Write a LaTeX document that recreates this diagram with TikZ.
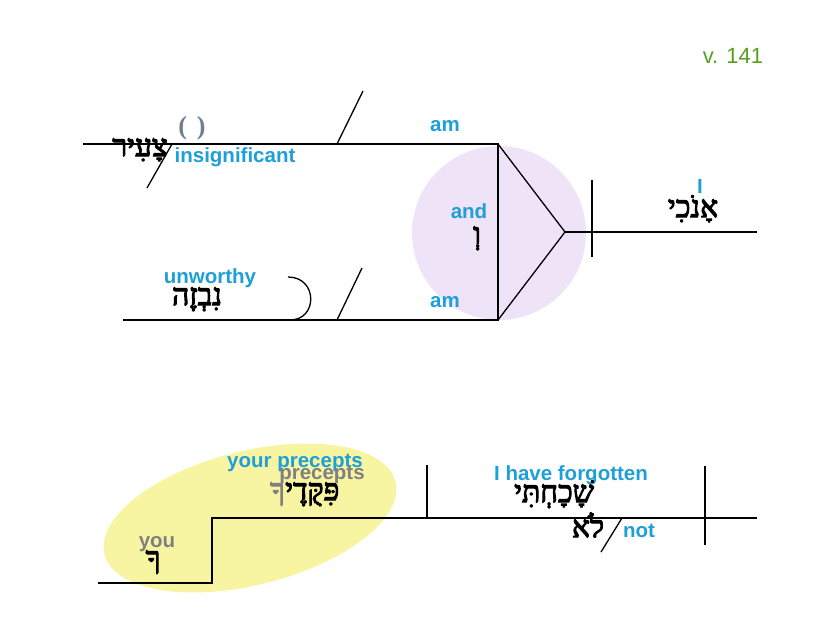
\documentclass[tikz,border=0pt]{standalone}
\usepackage{fontspec}
\setmainfont{Liberation Sans}
\newfontfamily\heb[Script=Hebrew, FakeBold=3.5]{Liberation Serif}
\newfontfamily\parenfont{Liberation Serif}
\TeXXeTstate=1
\definecolor{lblue}{HTML}{1E9FD8}
\definecolor{tgray}{HTML}{808080}
\definecolor{pgray}{HTML}{6E7F8F}
\definecolor{vgreen}{HTML}{5A9E1E}
\definecolor{lav}{HTML}{EFE3F8}
\definecolor{lyel}{HTML}{F8F5A2}
\begin{document}
\begin{tikzpicture}[x=1pt,y=-1pt,
  en/.style={font=\fontsize{20.5}{24}\selectfont\bfseries, text=lblue, inner sep=0pt, anchor=base},
  gr/.style={en, text=tgray},
  hb/.style={font=\heb\fontsize{30}{34}\selectfont, inner sep=0pt, anchor=base},
  ln/.style={line width=1.3pt, black}]
\useasboundingbox (0,0) rectangle (825,635);
% backgrounds
\fill[lav] (499,233) circle[radius=87];
\fill[lyel, rotate around={14:(250,518)}] (250,518) ellipse[x radius=150, y radius=67];
% coordinates
\coordinate (tl) at (83,144);
\coordinate (tr) at (498,144);
\coordinate (bl) at (123,320);
\coordinate (br) at (498,320);
\coordinate (apex) at (565,232);
\coordinate (re) at (757,232);
\coordinate (vt) at (592,180);
\coordinate (vb) at (592,257);
\coordinate (s1a) at (337,144);
\coordinate (s1b) at (363,91);
\coordinate (s2a) at (172,144);
\coordinate (s2b) at (147,188);
\coordinate (s3a) at (337,320);
\coordinate (s3b) at (362,268);
\coordinate (c1) at (288,277);
\coordinate (c2) at (290,320);
% bottom
\coordinate (ql) at (98,583);
\coordinate (qc) at (212,583);
\coordinate (qu) at (212,518);
\coordinate (qr) at (757,518);
\coordinate (v1t) at (427,465);
\coordinate (v1b) at (427,518);
\coordinate (v2t) at (705,466);
\coordinate (v2b) at (705,545);
\coordinate (s4a) at (622,518);
\coordinate (s4b) at (601,552);
% lines
\draw[ln] (tl) -- (tr) -- (br) -- (bl);
\draw[ln] (tr) -- (apex) -- (br);
\draw[ln] (apex) -- (re);
\draw[ln] (vt) -- (vb);
\draw[ln] (s1a) -- (s1b);
\draw[ln] (s2a) -- (s2b);
\draw[ln] (s3a) -- (s3b);
\draw[ln] (c1) .. controls (318,277) and (318,320) .. (c2);
\draw[ln] (ql) -- (qc) -- (qu) -- (qr);
\draw[ln] (v1t) -- (v1b);
\draw[ln] (v2t) -- (v2b);
\draw[ln] (s4a) -- (s4b);
% texts
\node[font=\parenfont\fontsize{26}{30}\selectfont\bfseries, text=pgray, inner sep=0pt, anchor=base] (par) at (192,134) {(\kern10pt)};
\node[hb] (tsair) at (140,156) {\beginR צָעִיר\endR};
\node[en] (insig) at (235,162) {insignificant};
\node[en] (am1) at (445,131) {am};
\node[en] (am2) at (445,307) {am};
\node[en] (and) at (469,218) {and};
\node[hb] (vav) at (477,244) {\beginR וְ\endR};
\node[en] (I) at (700,193) {I};
\node[hb] (anoki) at (693,217) {\beginR אָנֹכִי\endR};
\node[en] (unw) at (210,283) {unworthy};
\node[hb] (nivzeh) at (197,305) {\beginR נִבְזֶה\endR};
\node[en] (yp) at (295,467) {your precepts};
\node[gr] (prec) at (322,479) {precepts};
\node[hb, anchor=base west] (piqq) at (285,500) {\beginR פִּקֻּדֶי\endR};
\node[hb, anchor=base east, text=tgray] (piqk) at (piqq.base west) {\beginR ךָ\endR};
\node[gr] (you) at (157,547) {you};
\node[hb] (kaf) at (153,568) {\beginR ךָ\endR};
\node[en] (forg) at (571,480) {I have forgotten};
\node[hb] (shak) at (554,502) {\beginR שָׁכָחְתִּי\endR};
\node[hb] (lo) at (588,537) {\beginR לֹא\endR};
\node[en] (not) at (639,537) {not};
\node[font=\fontsize{22}{26}\selectfont, text=vgreen, inner sep=0pt, anchor=base] (verse) at (733,63) {v. 141};
\end{tikzpicture}
\end{document}
